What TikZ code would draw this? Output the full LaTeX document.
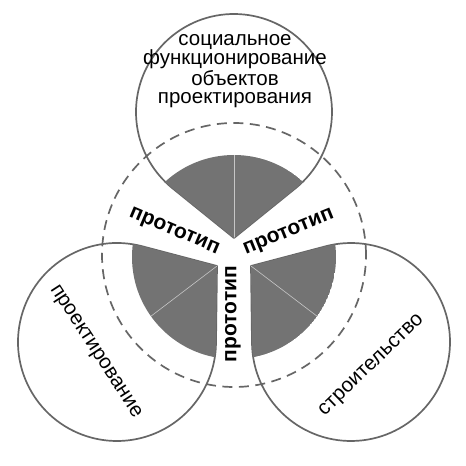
\documentclass[tikz,border=0pt]{standalone}
\usepackage{fontspec}
\setmainfont{Liberation Sans}
\definecolor{lobegray}{HTML}{737373}
\definecolor{rimgray}{HTML}{666666}
\tikzset{
  rim/.style={draw=rimgray,line width=1.7pt,fill=white},
  lobe/.style={fill=lobegray},
  seam/.style={draw=gray!45,line width=0.6pt},
  ring/.style={draw=rimgray,line width=1.7pt,dash pattern=on 10pt off 6.5pt},
  proto/.style={font=\fontsize{21}{21}\selectfont\bfseries,inner sep=0pt},
  field/.style={font=\fontsize{20.5}{18.5}\selectfont,inner sep=0pt,align=center},
  every picture/.style={line cap=butt,line join=round}
}

\begin{document}
\begin{tikzpicture}[x=1pt,y=1pt]
  \useasboundingbox (0,0) rectangle (466,466);
  \coordinate (c) at (234,209);
  \coordinate (o1) at (234,354);
  \coordinate (o2) at (117,124);
  \coordinate (o3) at (351,124);
  \coordinate (t1) at (234,228);
  \coordinate (t2) at (217,200);
  \coordinate (t3) at (251,200);
  % three drops with their grey cores
  \foreach \tp/\oc/\sa/\ea/\rr in {t1/o1/-51.06/231.06/98, t2/o2/75.2/359.2/99, t3/o3/180.8/464.8/99} {
    \filldraw[rim] (\tp) -- ([shift={(\sa:\rr)}]\oc) arc[start angle=\sa,end angle=\ea,radius=\rr] -- cycle;
    \begin{scope}
      \clip (\tp) -- ([shift={(\sa:\rr)}]\oc) arc[start angle=\sa,end angle=\ea,radius=\rr] -- cycle;
      \clip (c) circle (102);
      \fill[lobe] (c) circle (102);
      \draw[seam] (\tp) -- (\oc);
    \end{scope}
  }
  \draw[ring] (234,211) circle (132);
  \node[field] (social) at (235,395) {социальное\\функционирование\\объектов\\проектирования};
  \node[field,rotate=-57] (design) at (95,114) {проектирование};
  \node[field,rotate=44] (build) at (372,100) {строительство};
  \node[proto,rotate=-23] (protoL) at (174,234) {прототип};
  \node[proto,rotate=22] (protoR) at (289,233) {прототип};
  \node[proto,rotate=90] (protoB) at (233,152) {прототип};
\end{tikzpicture}
\end{document}
